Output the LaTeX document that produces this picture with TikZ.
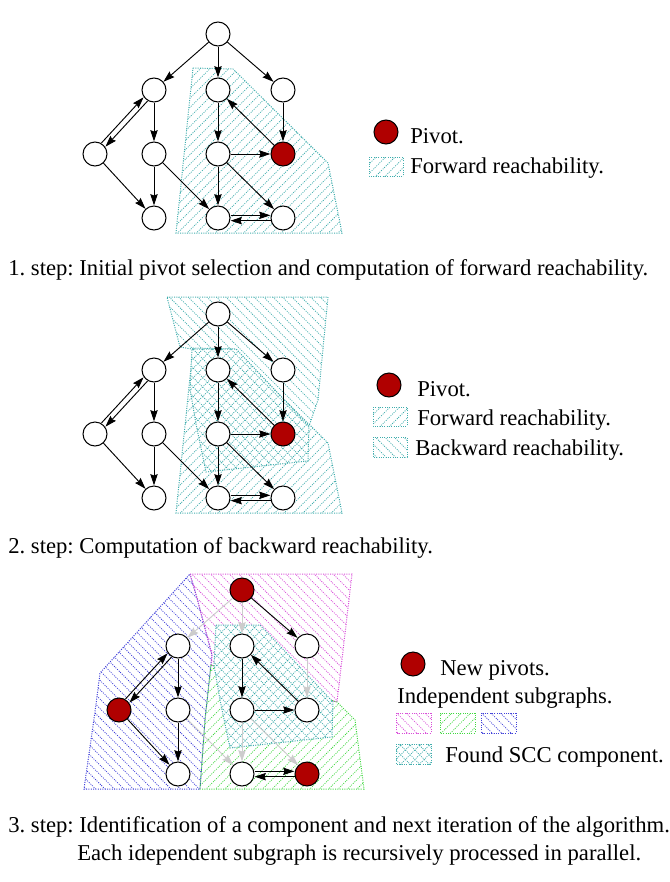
\documentclass[tikz,border=0pt]{standalone}
\usepackage{fontspec}
\setmainfont{Liberation Serif}
\usetikzlibrary{arrows.meta, patterns.meta}
\definecolor{pivotred}{rgb}{0.69,0.00,0.00}
\definecolor{hatchTeal}{rgb}{0.25,0.68,0.68}
\definecolor{hatchMagenta}{rgb}{0.85,0.30,0.85}
\definecolor{hatchGreen}{rgb}{0.25,0.85,0.25}
\definecolor{hatchBlue}{rgb}{0.25,0.25,0.85}
\definecolor{edgeGrey}{rgb}{0.80,0.80,0.80}
\tikzset{
  vertex/.style={circle, draw, line width=0.75pt, fill=white, minimum size=18pt, inner sep=0pt},
  pivot/.style={vertex, fill=pivotred},
  arr/.style={-{Stealth[length=8.5pt, width=5.5pt, inset=1pt]}, line width=0.7pt},
  fadedarr/.style={arr, edgeGrey},
  region/.style 2 args={draw=#1, densely dotted, line width=0.75pt,
    pattern={Lines[angle=#2, distance=5pt, line width=0.55pt]}, pattern color=#1},
  sccregion/.style={draw=hatchTeal, densely dotted, line width=0.75pt,
    pattern={Hatch[angle=45, distance=5pt, line width=0.55pt]}, pattern color=hatchTeal},
  txt/.style={font=\fontsize{17}{20}\selectfont, inner sep=0pt, anchor=base west}
}
\frenchspacing

\begin{document}
\begin{tikzpicture}[x=0.75pt, y=-0.75pt]
    \useasboundingbox (0,0) rectangle (670,882);
    % step 1: forward reachability
    \draw[region={hatchTeal}{45}] (193,68) -- (233,69) -- (328,163) -- (342,233) -- (176,233) -- cycle;
    % step 2: backward, forward and their overlap
    \draw[region={hatchTeal}{-45}] (167,297) -- (328,297) -- (318,400) -- (309,426) -- (236,349) -- (192,349) -- (180,347) -- cycle;
    \fill[white] (193,348) -- (233,349) -- (328,443) -- (342,513) -- (176,513) -- cycle;
    \draw[region={hatchTeal}{45}] (193,348) -- (233,349) -- (328,443) -- (342,513) -- (176,513) -- cycle;
    \fill[white] (192,349) -- (236,349) -- (309,426) -- (308,461) -- (206,472) -- (196,424) -- (190,389) -- cycle;
    \draw[sccregion] (192,349) -- (236,349) -- (309,426) -- (308,461) -- (206,472) -- (196,424) -- (190,389) -- cycle;
    % step 3: independent subgraphs
    \draw[region={hatchBlue}{-45}] (190,574) -- (197,598) -- (212,655) -- (205,720) -- (200,789) -- (84,789) -- (95,712) -- (100,673) -- cycle;
    \draw[region={hatchMagenta}{-45}] (190,574) -- (352,574) -- (337,702) -- (211,665) -- (212,655) -- (197,598) -- cycle;
    \draw[region={hatchGreen}{45}] (211,665) -- (337,702) -- (355,720) -- (364,789) -- (200,789) -- (205,720) -- cycle;
    \fill[white] (216,625) -- (260,625) -- (333,702) -- (332,737) -- (230,748) -- (220,700) -- (214,665) -- cycle;
    \draw[sccregion] (216,625) -- (260,625) -- (333,702) -- (332,737) -- (230,748) -- (220,700) -- (214,665) -- cycle;

    % graphs of step 1 and step 2
    \foreach \p/\dy in {A/0, B/280} {
      \begin{scope}[shift={(0,\dy)}]
        \node[vertex] (\p-top) at (218,34) {};
        \node[vertex] (\p-11) at (154,90) {};
        \node[vertex] (\p-12) at (218,90) {};
        \node[vertex] (\p-13) at (283,90) {};
        \node[vertex] (\p-20) at (95,154) {};
        \node[vertex] (\p-21) at (154,154) {};
        \node[vertex] (\p-22) at (218,154) {};
        \node[pivot]  (\p-23) at (283,154) {};
        \node[vertex] (\p-31) at (154,218) {};
        \node[vertex] (\p-32) at (218,218) {};
        \node[vertex] (\p-33) at (283,218) {};
      \end{scope}
      \draw[arr] (\p-top) -- (\p-11);
      \draw[arr] (\p-top) -- (\p-12);
      \draw[arr] (\p-top) -- (\p-13);
      \draw[arr, transform canvas={shift={(-1.5pt,1.4pt)}}] (\p-20) -- (\p-11);
      \draw[arr, transform canvas={shift={(1.5pt,-1.4pt)}}] (\p-11) -- (\p-20);
      \draw[arr] (\p-11) -- (\p-21);
      \draw[arr] (\p-20) -- (\p-31);
      \draw[arr] (\p-21) -- (\p-31);
      \draw[arr] (\p-21) -- (\p-32);
      \draw[arr] (\p-12) -- (\p-22);
      \draw[arr] (\p-23) -- (\p-12);
      \draw[arr] (\p-13) -- (\p-23);
      \draw[arr] (\p-22) -- (\p-23);
      \draw[arr] (\p-22) -- (\p-32);
      \draw[arr] (\p-22) -- (\p-33);
      \draw[arr, transform canvas={shift={(0pt,2pt)}}] (\p-32) -- (\p-33);
      \draw[arr, transform canvas={shift={(0pt,-2pt)}}] (\p-33) -- (\p-32);
    }

    % graph of step 3
    \begin{scope}[shift={(24,556)}]
      \node[pivot]  (C-top) at (218,34) {};
      \node[vertex] (C-11) at (154,90) {};
      \node[vertex] (C-12) at (218,90) {};
      \node[vertex] (C-13) at (283,90) {};
      \node[pivot]  (C-20) at (95,154) {};
      \node[vertex] (C-21) at (154,154) {};
      \node[vertex] (C-22) at (218,154) {};
      \node[vertex] (C-23) at (283,154) {};
      \node[vertex] (C-31) at (154,218) {};
      \node[vertex] (C-32) at (218,218) {};
      \node[pivot]  (C-33) at (283,218) {};
    \end{scope}
    \draw[fadedarr] (C-top) -- (C-11);
    \draw[fadedarr] (C-top) -- (C-12);
    \draw[arr] (C-top) -- (C-13);
    \draw[fadedarr] (C-13) -- (C-23);
    \draw[fadedarr] (C-22) -- (C-32);
    \draw[fadedarr] (C-22) -- (C-33);
    \draw[fadedarr] (C-21) -- (C-32);
    \draw[arr] (C-23) -- (C-12);
    \draw[arr] (C-12) -- (C-22);
    \draw[arr] (C-22) -- (C-23);
    \draw[arr, transform canvas={shift={(-1.5pt,1.4pt)}}] (C-20) -- (C-11);
    \draw[arr, transform canvas={shift={(1.5pt,-1.4pt)}}] (C-11) -- (C-20);
    \draw[arr] (C-11) -- (C-21);
    \draw[arr] (C-20) -- (C-31);
    \draw[arr] (C-21) -- (C-31);
    \draw[arr, transform canvas={shift={(0pt,2pt)}}] (C-32) -- (C-33);
    \draw[arr, transform canvas={shift={(0pt,-2pt)}}] (C-33) -- (C-32);

    % legends
    \node[pivot] (keyPivotA) at (386,132) {};
    \node[txt] (keyTextA1) at (410,143) {Pivot.};
    \draw[region={hatchTeal}{45}] (369,157) rectangle (403,176);
    \node[txt] (keyTextA2) at (410,173) {Forward reachability.};

    \node[pivot] (keyPivotB) at (389,385) {};
    \node[txt] (keyTextB1) at (417,396) {Pivot.};
    \draw[region={hatchTeal}{45}] (373,407) rectangle (407,426);
    \node[txt] (keyTextB2) at (417,425) {Forward reachability.};
    \draw[region={hatchTeal}{-45}] (373,437) rectangle (407,457);
    \node[txt] (keyTextB3) at (415,455) {Backward reachability.};

    \node[pivot] (keyPivotC) at (413,664) {};
    \node[txt] (keyTextC1) at (440,675) {New pivots.};
    \node[txt] (keyTextC2) at (397,703) {Independent subgraphs.};
    \draw[region={hatchMagenta}{-45}] (396,713) rectangle (431,733);
    \draw[region={hatchGreen}{45}] (440,713) rectangle (475,733);
    \draw[region={hatchBlue}{-45}] (481,713) rectangle (516,733);
    \draw[sccregion] (396,744) rectangle (431,764);
    \node[txt] (keyTextC3) at (445,762) {Found SCC component.};

    % captions
    \node[txt] (capA) at (8,275) {1. step: Initial pivot selection and computation of forward reachability.};
    \node[txt] (capB) at (8,553) {2. step: Computation of backward reachability.};
    \node[txt] (capC) at (8,832) {3. step: Identification of a component and next iteration of the algorithm.};
    \node[txt] (capD) at (77,860) {Each idependent subgraph is recursively processed in parallel.};
\end{tikzpicture}
\end{document}
